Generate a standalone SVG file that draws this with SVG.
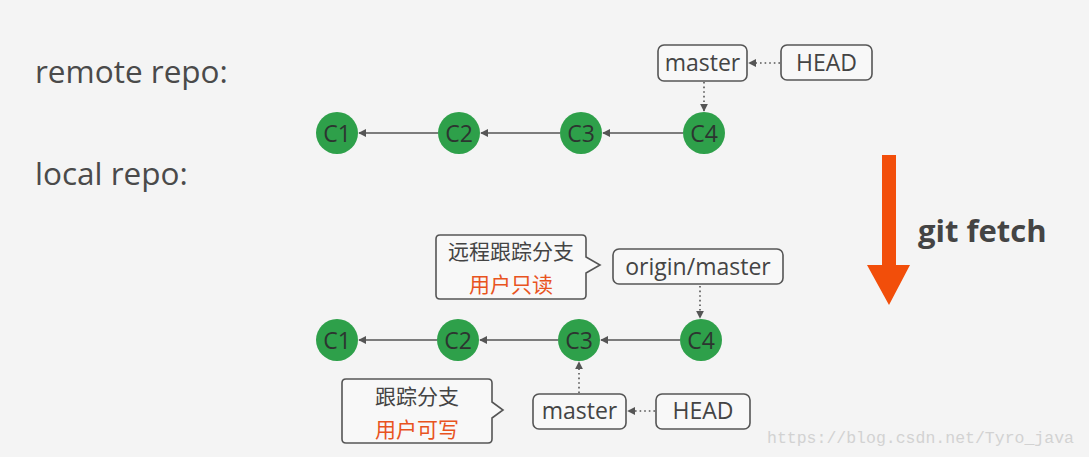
<svg xmlns="http://www.w3.org/2000/svg" width="1089" height="457" viewBox="0 0 1089 457">
<defs>
<marker id="ah" viewBox="0 0 10 10" refX="9" refY="5" markerWidth="5" markerHeight="5" orient="auto-start-reverse" markerUnits="strokeWidth">
<path d="M0,0 L10,5 L0,10 z" fill="#555"/>
</marker>
<style>
.bg{fill:#f4f4f4}
.lbl{font-family:"Open Sans","Noto Sans",sans-serif;font-size:31.5px;fill:#4a4a4a}
.commit{fill:#2ea04a}
.ct{font-family:"Open Sans","Noto Sans",sans-serif;font-size:23px;fill:#2c3530;text-anchor:middle;dominant-baseline:central}
.box{fill:#f8f8f8;stroke:#555;stroke-width:1.6}
.bt{font-family:"Open Sans","Noto Sans",sans-serif;font-size:23px;fill:#444;text-anchor:middle;dominant-baseline:central}
.edge{stroke:#555;stroke-width:1.6;fill:none}
.dot{stroke:#555;stroke-width:1.6;fill:none;stroke-dasharray:1.6 3}
.call{fill:#f8f8f8;stroke:#555;stroke-width:1.6}
.cn{font-family:"Noto Sans CJK SC",sans-serif;font-size:21px;fill:#444;text-anchor:middle;dominant-baseline:central}
.co{font-family:"Noto Sans CJK SC",sans-serif;font-size:21px;fill:#e8541e;text-anchor:middle;dominant-baseline:central}
</style>
</defs>
<rect class="bg" x="0" y="0" width="1089" height="457"/>

<g id="labels">
<text class="lbl" x="35" y="83">remote repo:</text>
<text class="lbl" x="35" y="185">local repo:</text>
</g>

<g id="connectors">
<line class="edge" x1="683" y1="133" x2="603" y2="133" marker-end="url(#ah)"/>
<line class="edge" x1="560" y1="133" x2="481" y2="133" marker-end="url(#ah)"/>
<line class="edge" x1="438" y1="133" x2="359" y2="133" marker-end="url(#ah)"/>
<line class="dot" x1="780" y1="63" x2="749" y2="63" marker-end="url(#ah)"/>
<line class="dot" x1="704" y1="82" x2="704" y2="111" marker-end="url(#ah)"/>
<line class="edge" x1="680" y1="340" x2="601" y2="340" marker-end="url(#ah)"/>
<line class="edge" x1="558" y1="340" x2="480" y2="340" marker-end="url(#ah)"/>
<line class="edge" x1="437" y1="340" x2="359" y2="340" marker-end="url(#ah)"/>
<line class="dot" x1="700" y1="286" x2="700" y2="318" marker-end="url(#ah)"/>
<line class="dot" x1="655" y1="411" x2="628" y2="411" marker-end="url(#ah)"/>
<line class="dot" x1="579" y1="393" x2="579" y2="362" marker-end="url(#ah)"/>
</g>

<g id="remote-C1"><circle class="commit" cx="337" cy="133" r="21"/><text class="ct" x="337" y="133">C1</text></g>
<g id="remote-C2"><circle class="commit" cx="459" cy="133" r="21"/><text class="ct" x="459" y="133">C2</text></g>
<g id="remote-C3"><circle class="commit" cx="581" cy="133" r="21"/><text class="ct" x="581" y="133">C3</text></g>
<g id="remote-C4"><circle class="commit" cx="704" cy="133" r="21"/><text class="ct" x="704" y="133">C4</text></g>

<g id="remote-master"><rect class="box" x="658" y="45" width="89" height="36" rx="6"/><text class="bt" x="702.5" y="62">master</text></g>
<g id="remote-HEAD"><rect class="box" x="781" y="45" width="91" height="35" rx="6"/><text class="bt" x="826.5" y="62">HEAD</text></g>

<g id="local-C1"><circle class="commit" cx="337" cy="340" r="21"/><text class="ct" x="337" y="340">C1</text></g>
<g id="local-C2"><circle class="commit" cx="458" cy="340" r="21"/><text class="ct" x="458" y="340">C2</text></g>
<g id="local-C3"><circle class="commit" cx="579" cy="340" r="21"/><text class="ct" x="579" y="340">C3</text></g>
<g id="local-C4"><circle class="commit" cx="701" cy="340" r="21"/><text class="ct" x="701" y="340">C4</text></g>

<g id="origin-master"><rect class="box" x="613" y="249" width="170" height="35" rx="6"/><text class="bt" x="698" y="266">origin/master</text></g>
<g id="local-master"><rect class="box" x="533" y="394" width="93" height="35" rx="6"/><text class="bt" x="579.5" y="410">master</text></g>
<g id="local-HEAD"><rect class="box" x="656" y="394" width="94" height="35" rx="6"/><text class="bt" x="703" y="410">HEAD</text></g>

<g id="callout-remote-tracking">
<path class="call" d="M440,235 H582 Q586,235 586,239 V257 L600,265 L586,273 V295 Q586,299 582,299 H440 Q436,299 436,295 V239 Q436,235 440,235 Z"/>
<text class="cn" x="511" y="250">远程跟踪分支</text>
<text class="co" x="511" y="283">用户只读</text>
</g>

<g id="callout-tracking">
<path class="call" d="M346,379 H488 Q492,379 492,383 V402 L503,410 L492,418 V439 Q492,443 488,443 H346 Q342,443 342,439 V383 Q342,379 346,379 Z"/>
<text class="cn" x="417" y="395">跟踪分支</text>
<text class="co" x="417" y="428">用户可写</text>
</g>

<g id="fetch-arrow">
<path d="M882,155 H896 V265 H910 L889,305 L867,265 H882 Z" fill="#f24e0a"/>
<text x="918" y="242" font-family="Open Sans, Noto Sans, sans-serif" font-weight="bold" font-size="31" fill="#444">git fetch</text>
</g>

<text x="767" y="443" font-family="Liberation Mono, monospace" font-size="16.5" fill="#d2d2d2">https://blog.csdn.net/Tyro_java</text>
</svg>
